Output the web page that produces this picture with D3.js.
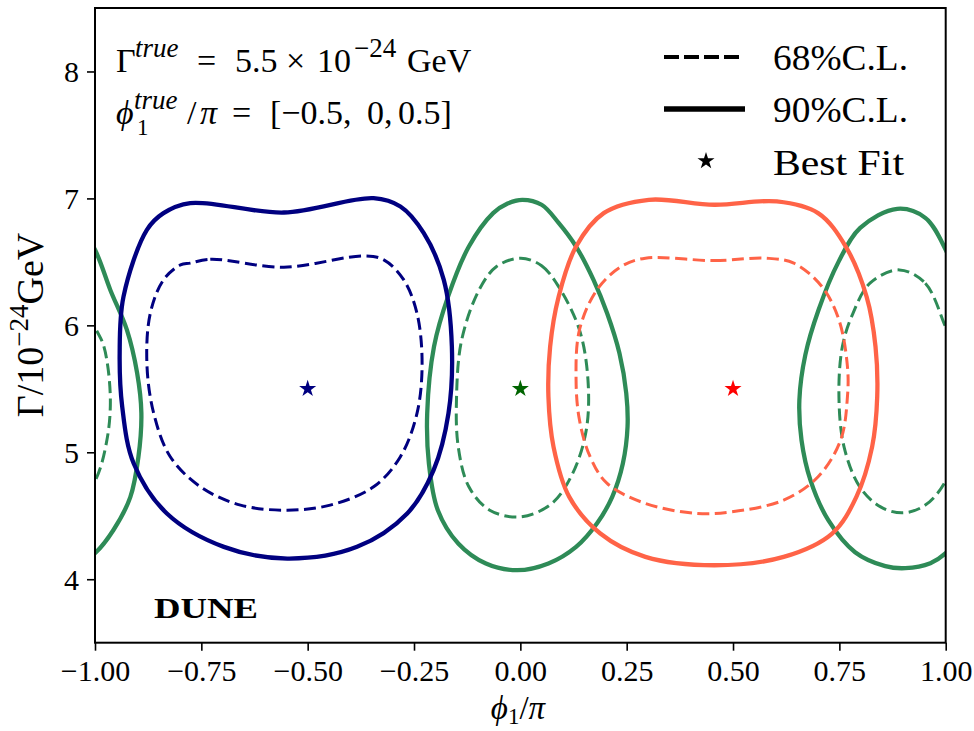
<!DOCTYPE html>
<html><head><meta charset="utf-8">
<script src="https://cdn.jsdelivr.net/npm/d3@7"></script>
<style>
body{margin:0;background:#fff;}
text{font-family:"Liberation Serif","Times New Roman",serif;fill:#000;}
</style></head>
<body><svg id="c" width="974" height="731"></svg>
<script>
// ---------- data ----------
const xTicks = [-1, -0.75, -0.5, -0.25, 0, 0.25, 0.5, 0.75, 1];
const yTicks = [4, 5, 6, 7, 8];
const xDomain = [-1, 1];
const yDomain = [3.5, 8.5];

// best-fit points [phi/pi, Gamma]
const bestFitBlue = [-0.5, 5.5];
const bestFitGreen = [0.0, 5.5];
const bestFitRed = [0.5, 5.5];

// contours [phi/pi, Gamma (1e-24 GeV)]
const blue90 = [[-0.776,6.963],[-0.556,6.889],[-0.345,7.002],[-0.282,6.936],[-0.227,6.726],[-0.180,6.358],[-0.161,5.832],[-0.169,5.307],[-0.204,4.860],[-0.266,4.518],[-0.384,4.255],[-0.548,4.163],[-0.697,4.255],[-0.831,4.518],[-0.909,4.912],[-0.936,5.359],[-0.942,5.780],[-0.933,6.226],[-0.878,6.752],[-0.839,6.884]];
const blue68 = [[-0.776,6.490],[-0.729,6.521],[-0.556,6.458],[-0.368,6.547],[-0.321,6.516],[-0.274,6.358],[-0.243,6.095],[-0.231,5.701],[-0.243,5.307],[-0.282,4.965],[-0.345,4.728],[-0.447,4.584],[-0.548,4.544],[-0.658,4.584],[-0.752,4.728],[-0.823,4.965],[-0.862,5.307],[-0.878,5.701],[-0.870,6.095],[-0.839,6.358],[-0.799,6.476]];
const green90 = [[0.005,6.989],[0.050,6.950],[0.090,6.807],[0.131,6.621],[0.172,6.358],[0.204,6.095],[0.233,5.780],[0.249,5.464],[0.252,5.201],[0.241,4.912],[0.216,4.649],[0.180,4.439],[0.131,4.255],[0.066,4.124],[-0.007,4.071],[-0.081,4.124],[-0.146,4.282],[-0.194,4.544],[-0.215,4.912],[-0.219,5.307],[-0.203,5.832],[-0.170,6.226],[-0.121,6.621],[-0.064,6.884],[-0.030,6.960]];
const green68 = [[0.001,6.529],[0.050,6.470],[0.090,6.305],[0.139,5.964],[0.159,5.569],[0.155,5.175],[0.123,4.834],[0.074,4.597],[0.001,4.491],[-0.072,4.544],[-0.121,4.728],[-0.146,5.043],[-0.150,5.438],[-0.138,5.885],[-0.097,6.279],[-0.056,6.463]];
const red90 = [[0.302,6.989],[0.456,6.950],[0.603,6.976],[0.700,6.884],[0.765,6.621],[0.814,6.226],[0.835,5.832],[0.839,5.438],[0.827,5.043],[0.790,4.649],[0.733,4.360],[0.619,4.176],[0.456,4.110],[0.294,4.176],[0.188,4.360],[0.115,4.649],[0.078,5.043],[0.066,5.438],[0.070,5.832],[0.090,6.226],[0.131,6.621],[0.196,6.884]];
const red68 = [[0.294,6.529],[0.456,6.510],[0.578,6.529],[0.643,6.490],[0.709,6.305],[0.749,6.043],[0.769,5.674],[0.769,5.438],[0.753,5.096],[0.700,4.807],[0.619,4.623],[0.497,4.531],[0.416,4.518],[0.294,4.597],[0.204,4.755],[0.164,4.965],[0.139,5.254],[0.131,5.569],[0.139,5.964],[0.180,6.279],[0.237,6.463]];
// degenerate green region around phi/pi ~ 0.88 (periodic in phi, wraps to -1)
const greenAlt90 = [[0.886,6.918],[0.952,6.847],[1.000,6.595],[1.036,6.279],[1.075,5.964],[1.099,5.625],[1.109,5.309],[1.102,4.962],[1.083,4.647],[1.043,4.386],[1.000,4.205],[0.964,4.126],[0.905,4.087],[0.858,4.103],[0.787,4.213],[0.724,4.465],[0.682,4.781],[0.661,5.096],[0.656,5.412],[0.670,5.767],[0.701,6.121],[0.748,6.500],[0.799,6.768]];
const greenAlt68 = [[0.891,6.437],[0.952,6.332],[1.000,5.985],[1.021,5.832],[1.036,5.438],[1.028,5.096],[1.000,4.775],[0.952,4.584],[0.900,4.523],[0.847,4.570],[0.798,4.728],[0.761,5.043],[0.749,5.438],[0.757,5.832],[0.782,6.095],[0.822,6.332]];
const period = 2;

const legLabels = ['68%C.L.', '90%C.L.', 'Best Fit'];

// ---------- layout ----------
const svg = d3.select('#c');
const L = 95, R = 945.7, T = 8, B = 642.7;
const x = d3.scaleLinear().domain(xDomain).range([L, R]);
const y = d3.scaleLinear().domain(yDomain).range([B, T]);

const C = {blue:'#000080', green:'#2e8b57', red:'#ff6347', starBlue:'#000080', starGreen:'#006400', starRed:'#ff0000'};

svg.append('defs').append('clipPath').attr('id','clip')
  .append('rect').attr('x',L).attr('y',T).attr('width',R-L).attr('height',B-T);

const g = svg.append('g').attr('clip-path','url(#clip)');
const line = d3.line().x(d=>x(d[0])).y(d=>y(d[1])).curve(d3.curveCatmullRomClosed.alpha(0.5));

function contour(data, color, dashed, shift){
  const d = shift ? data.map(p=>[p[0]+shift,p[1]]) : data;
  g.append('path').attr('d', line(d)).attr('fill','none').attr('stroke',color)
    .attr('stroke-width', dashed?3:4.3)
    .attr('stroke-dasharray', dashed?'12,5.5':null);
}
contour(greenAlt90, C.green, false, 0);
contour(greenAlt90, C.green, false, -period);
contour(greenAlt68, C.green, true, 0);
contour(greenAlt68, C.green, true, -period);
contour(green90, C.green, false);
contour(green68, C.green, true);
contour(red90, C.red, false);
contour(red68, C.red, true);
contour(blue90, C.blue, false);
contour(blue68, C.blue, true);

const star = d3.symbol().type(d3.symbolStar).size(90);
[[bestFitBlue,C.starBlue],[bestFitGreen,C.starGreen],[bestFitRed,C.starRed]].forEach(([p,c])=>{
  g.append('path').attr('d',star()).attr('transform',`translate(${x(p[0])},${y(p[1])})`).attr('fill',c);
});

// frame
svg.append('rect').attr('x',L).attr('y',T).attr('width',R-L).attr('height',B-T)
  .attr('fill','none').attr('stroke','#000').attr('stroke-width',2);

// axes
const fmtX = v => d3.format('.2f')(v).replace('-', '\u2212');
const xa = svg.append('g').attr('transform',`translate(0,${B})`)
  .call(d3.axisBottom(x).tickValues(xTicks).tickFormat(fmtX).tickSize(8).tickPadding(8));
const ya = svg.append('g').attr('transform',`translate(${L},0)`)
  .call(d3.axisLeft(y).tickValues(yTicks).tickFormat(d3.format('d')).tickSize(8).tickPadding(8));
[xa,ya].forEach(a=>{
  a.select('.domain').remove();
  a.selectAll('line').attr('stroke','#000').attr('stroke-width',1.6);
  a.selectAll('text').attr('font-family','Liberation Serif').attr('font-size',30).attr('fill','#000');
});
xa.selectAll('text').attr('dy','0.76em');
ya.selectAll('text').attr('dy','0.34em');

// axis labels
const xl = svg.append('text').attr('x',518).attr('y',719).attr('text-anchor','middle').attr('font-size',33);
xl.append('tspan').attr('font-style','italic').text('\u03d5');
xl.append('tspan').attr('font-size',23).attr('dy',5).text('1');
xl.append('tspan').attr('dy',-5).text('/');
xl.append('tspan').attr('font-style','italic').text('\u03c0');

const yl = svg.append('text').attr('transform','translate(43,325) rotate(-90)').attr('text-anchor','middle').attr('font-size',38);
yl.append('tspan').text('\u0393/10');
yl.append('tspan').attr('font-size',27).attr('dy',-15).text('\u221224');
yl.append('tspan').attr('dy',15).text('GeV');

// annotations
const a1 = svg.append('text').attr('font-size',34);
a1.append('tspan').attr('x',116).attr('y',72).text('\u0393');
a1.append('tspan').attr('x',135).attr('y',57).attr('font-size',27).attr('font-style','italic').text('true');
a1.append('tspan').attr('x',197).attr('y',72).text('=');
a1.append('tspan').attr('x',235).attr('y',72).text('5.5');
a1.append('tspan').attr('x',286).attr('y',72).text('\u00d7');
a1.append('tspan').attr('x',317).attr('y',72).text('10');
a1.append('tspan').attr('x',354).attr('y',57).attr('font-size',27).text('\u221224');
a1.append('tspan').attr('x',407).attr('y',72).text('GeV');

const a2 = svg.append('text').attr('font-size',34);
a2.append('tspan').attr('x',116).attr('y',124).attr('font-style','italic').text('\u03d5');
a2.append('tspan').attr('x',134).attr('y',109).attr('font-size',27).attr('font-style','italic').text('true');
a2.append('tspan').attr('x',137).attr('y',135).attr('font-size',23).text('1');
a2.append('tspan').attr('x',187).attr('y',124).text('/');
a2.append('tspan').attr('x',200).attr('y',124).attr('font-style','italic').text('\u03c0');
a2.append('tspan').attr('x',232).attr('y',124).text('=');
a2.append('tspan').attr('x',270).attr('y',124).text('[\u22120.5,');
a2.append('tspan').attr('x',367).attr('y',124).text('0,');
a2.append('tspan').attr('x',398).attr('y',124).text('0.5]');

svg.append('text').attr('x',154).attr('y',618).attr('font-size',30).attr('font-weight','bold')
  .attr('textLength',104).attr('lengthAdjust','spacingAndGlyphs').text('DUNE');

// legend
const leg = svg.append('g');
leg.append('line').attr('x1',664).attr('x2',743).attr('y1',57).attr('y2',57)
  .attr('stroke','#000').attr('stroke-width',4).attr('stroke-dasharray','15,5');
leg.append('line').attr('x1',664).attr('x2',745).attr('y1',109).attr('y2',109)
  .attr('stroke','#000').attr('stroke-width',5.5);
leg.append('path').attr('d',star()).attr('transform','translate(706,161)').attr('fill','#000');
const legY = [70, 122, 175];
const legW = [135, 135, 131];
legLabels.forEach((t,i)=>{
  leg.append('text').attr('x',773).attr('y',legY[i]).attr('font-size',36)
    .attr('textLength',legW[i]).attr('lengthAdjust','spacingAndGlyphs').text(t);
});
</script></body></html>
